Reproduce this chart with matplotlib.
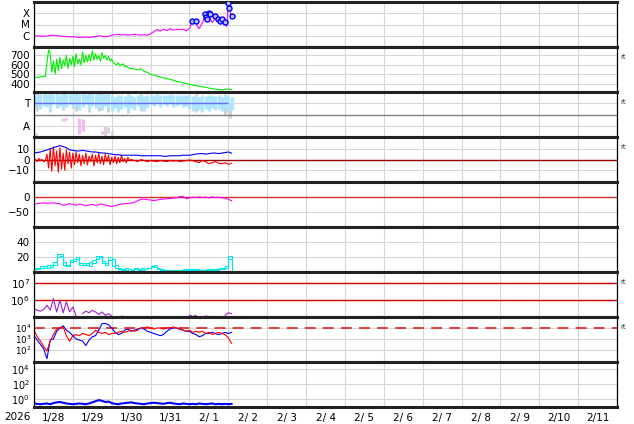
import numpy as np
import matplotlib
matplotlib.use("Agg")
import matplotlib.pyplot as plt
from matplotlib.ticker import NullLocator, FixedLocator

nan = np.nan

# time axis: hours from 2026-01-28 00:00
t2 = np.arange(0, 123, 2)          # every 2 h, 0..122
t_hr = np.arange(0, 61)            # hourly, 0..60
t_late = np.arange(62, 123, 2)     # every 2 h, 62..122
t_xr1 = np.arange(0, 95, 2)        # x-ray, every 2 h
t_xr2 = np.arange(96, 123)         # x-ray, hourly during flares

day_labels = ["1/28", "1/29", "1/30", "1/31", "2/ 1", "2/ 2", "2/ 3", "2/ 4",
              "2/ 5", "2/ 6", "2/ 7", "2/ 8", "2/ 9", "2/10", "2/11"]

# X-ray flux (log10 W/m2)
xray_log1 = [-6.05, -6.0, -6.03, -6.05, -6.02, -5.98, -5.94, -6.0, -6.03, -6.05, -6.07, -6.09, -6.09,
             -6.12, -6.14, -6.14, -6.12, -6.14, -6.11, -6.07, -6.0, -6.05, -6.09, -6.05, -5.95,
             -5.91, -5.86, -5.93, -5.89, -5.95, -5.91, -5.86, -5.91, -5.94, -5.91, -5.95, -5.82,
             -5.64, -5.45, -5.59, -5.41, -5.55, -5.36, -5.5, -5.44, -5.45, -5.41, -5.55]
xray_log2 = [-5.36, -5.0, -4.73, -4.91, -4.73, -5.18, -5.36, -5.09, -4.82, -4.45, -4.18, -4.36, -4.0,
             -4.55, -4.82, -4.64, -4.27, -4.45, -4.73, -4.91, -4.64, -4.82, -5.0, -5.18, -3.1, -3.73, -4.36]
flare_t = [97.5, 100, 105.6, 106.2, 106.8, 108, 108.6, 111.7, 113.6, 114.8, 116, 117.9, 119.8, 120.4, 122.2]
flare_log = [-4.73, -4.73, -4.09, -4.36, -4.55, -4.0, -4.09, -4.27, -4.55, -4.73, -4.55, -4.82, -3.09, -3.55, -4.27]

# solar wind speed (km/s)
vsw_hr = [460, 465, 470, 465, 475, 470, 480, 475,
          620, 760, 720, 520, 640, 500, 660, 540,
          680, 560, 650, 590, 700, 560, 670, 600,
          690, 580, 720, 610, 660, 600, 740, 620,
          700, 630, 710, 640, 750, 650, 720, 660,
          700, 640, 730, 670, 700, 650, 690, 640,
          660, 620, 610, 600, 620, 590, 600, 610,
          580, 590, 570, 560, 560]
vsw_late = [555, 545, 560, 530, 520, 500, 490, 480, 470, 460, 455, 445, 435, 425, 418, 410,
            400, 392, 385, 378, 372, 365, 360, 352, 346, 340, 335, 332, 338, 342, 335]

# IMF sector (T = +1, A = -1)
sect_hi = [1.9, 1.8, 1.85, 1.9, 1.8, 1.85, 1.8, 1.9, 1.85, 1.8, 1.9, 1.85,
           1.8, 1.9, 1.85, 1.9, 1.8, 1.85, 1.9, 1.8, 1.85, 1.9, 1.8, 1.85,
           1.7, 1.6, 1.75, 1.7, 1.65, 1.75, 1.7, 1.6, 1.75, 1.7, 1.65, 1.7,
           1.75, 1.7, 1.8, 1.75, 1.7, 1.75, 1.8, 1.7, 1.75, 1.7, 1.75, 1.7,
           1.7, 1.65, 1.7, 1.6, 1.7, 1.65, 1.75, 1.7, 1.65, 1.7, 1.6, 1.7, 1.65, 1.6]
sect_lo = [0.6, 0.9, 0.5, 0.8, 0.7, 0.4, 0.9, 0.6, 0.8, 0.5, 0.7, 0.9,
           0.6, 0.8, 0.4, 0.7, 0.9, 0.5, 0.8, 0.6, 0.7, 0.4, 0.8, 0.6,
           0.3, 0.6, 0.2, 0.5, 0.7, 0.3, 0.6, 0.4, 0.8, 0.5, 0.3, 0.6,
           0.9, 0.8, 1.0, 0.7, 0.9, 0.8, 1.0, 0.7, 0.8, 0.9, 0.7, 0.8,
           0.5, 0.3, 0.6, 0.4, 0.2, 0.5, 0.3, 0.6, 0.4, 0.5, 0.3, 0.6, 0.2, 0.4]
gray_t = [2, 10, 18, 26, 34, 40, 46, 58, 66, 100, 118, 121]
gray_lo = [0.3, 0.2, 0.4, 0.3, 0.2, 0.3, 0.2, 0.1, 0.3, 0.2, 0.0, -0.3]
gray_hi = [2.0, 2.0, 1.95, 2.0, 2.0, 1.95, 2.0, 1.8, 1.8, 1.8, 1.8, 1.0]
pinkA_t = [18, 20, 28, 30, 42, 52]
pinkA_lo = [-0.6, -0.5, -1.7, -1.5, -1.7, -0.35]
pinkA_hi = [-0.3, -0.35, -0.3, -0.4, -1.5, -0.3]
grayA_t = [1, 44, 46, 48]
grayA_lo = [-1.9, -1.9, -1.6, -1.8]
grayA_hi = [-1.6, -1.0, -1.1, -1.5]
sector_line_end = 120

# IMF Bt and Bz (nT)
bt = [6, 6.5, 7, 8, 9, 10, 11, 12, 13, 12, 11, 9,
      8.5, 8, 8, 8.5, 8, 7.5, 7, 7, 6.5, 6, 6, 5.5, 5,
      4.5, 4.5, 4, 4, 4, 4, 4, 4, 3.5, 3.5, 3.5, 3.5,
      3.5, 3.5, 3.5, 3, 3, 3.5, 3.5, 3.5, 3.5, 4, 4, 4,
      4.5, 5, 5.5, 5.5, 5, 5.5, 6, 6, 5.5, 6, 6.5, 7, 6]
bz_hr = [-1, 0, -2, 1, -1, 0, -2, -1,
         5, -8, 10, -11, 12, -6, 8, -12, 11, -9, 6, -10, 9, -4, 7, -8,
         6, -5, 7, -3, 5, -6, 4, -4, 6, -5, 3, -2, 5, -6, 4, -3,
         6, -4, 3, -5, 5, -2, 4, -5, 2, -3,
         3, -4, 2, -3, 4, -2, 1, -3, 2, -1, 0]
bz_late = [-1, -2, 0, -1, -2, -1, -1.5, -2, -1, -1.5, -2, -1,
           -1.5, -1, -2, -1.5, -1, -0.5,
           -1, -2, -3, -1, -2, -4, -3, -2, -3.5, -4, -3, -4.5, -3.5]

# Dst (nT)
dst = [-24, -22, -20, -19, -21, -20, -19, -21, -22, -27, -25, -22,
       -24, -27, -23, -25, -29, -26, -24, -28, -25, -23, -27, -29, -31,
       -28, -25, -23, -22, -21, -20, -18, -12, -8, -7, -9, -10,
       -12, -10, -8, -7, -6, -5, -4, -3, 1, 2, -6, -3,
       -1, -2, 0, -2, -1, -3, 0, -2, -1, -3, -4, -8, -12]

# two cyan index series
idx_a = [4, 6, 5, 8, 6, 9, 14, 24, 24, 10, 8, 14, 17, 18, 12, 9, 12, 8, 16, 22, 21, 12, 9, 20, 8,
         5, 4, 4, 3, 4, 3, 5, 4, 3, 4, 6, 8, 7, 4, 3, 2, 2, 3, 2, 2, 3, 4, 3, 3,
         4, 3, 2, 3, 4, 3, 4, 3, 5, 4, 6, 22, 12]
idx_b = [6, 4, 8, 6, 9, 7, 10, 20, 22, 14, 10, 16, 15, 20, 10, 12, 10, 14, 12, 18, 20, 15, 12, 16, 18,
         10, 6, 3, 5, 4, 3, 4, 3, 5, 4, 5, 7, 9, 6, 4, 3, 3, 2, 3, 3, 2, 3, 4, 4,
         3, 4, 3, 2, 3, 4, 3, 4, 4, 5, 8, 18, 0]

# particle flux (log10)
elec_log = [5.5, 5.4, 5.35, 5.45, 5.7, 5.4, 6.1, 5.3, 6.0, 5.25, 5.9, 5.3, 5.6, 5.05, nan,
            5.2, 5.35, 5.25, 5.4, 5.3, 5.15, 5.3, 5.1, 5.2, 5.05, nan, nan, 5.05, 5.02,
            nan, nan, nan, nan, nan, nan, nan, nan, nan, nan, nan, nan, nan, nan, nan, nan, nan, nan, nan,
            5.12, 5.03, 5.1, nan, nan, 5.06, 5.03, nan, nan, nan, nan, 5.1, 5.25, 5.2]
blue8_log = [3.3, 2.9, 2.5, 2.1, 1.2, 2.9, 3.0, 3.7, 4.0, 4.2, 3.8, 3.6, 3.3, 3.0, 2.9, 2.8, 2.4,
             2.9, 3.2, 3.3, 3.8, 4.4, 4.4, 4.3, 4.0, 3.6, 3.4, 3.5, 3.8, 3.9, 3.7, 3.8, 3.9, 4.0,
             3.9, 3.7, 3.6, 3.5, 3.4, 3.3, 3.4, 3.7, 3.9, 4.0, 4.0, 3.9, 3.8, 3.7, 3.7, 3.5, 3.4,
             3.2, 3.3, 3.5, 3.5, 3.6, 3.5, 3.4, 3.5, 3.6, 3.5, 3.6]
red8_log = [3.8, 3.2, 2.8, 2.3, 1.9, 2.8, 3.4, 3.9, 4.0, 4.1, 3.3, 2.8, 3.3, 3.4, 3.3, 3.5, 3.4,
            3.3, 3.5, 3.8, 3.6, 3.5, 3.6, 3.4, 3.5, 3.5, 3.6, 3.7, 3.6, 3.7, 3.8, 3.7, 3.8, 4.0,
            4.0, 4.1, 4.0, 3.9, 4.0, 4.0, 3.9, 4.0, 4.0, 4.1, 4.0, 3.9, 3.8, 3.7, 3.8, 3.6, 3.7,
            3.6, 3.7, 3.5, 3.6, 3.4, 3.5, 3.6, 3.5, 3.4, 3.1, 2.6]
blue9_log = [-0.6, -0.65, -0.7, -0.65, -0.6, -0.7, -0.55, -0.45, -0.4,
             -0.5, -0.6, -0.65, -0.7, -0.65, -0.6, -0.65, -0.7, -0.6,
             -0.45, -0.3, -0.15, -0.25, -0.4, -0.35, -0.55,
             -0.65, -0.7, -0.6, -0.55, -0.5, -0.45, -0.55, -0.6, -0.65, -0.7, -0.6, -0.55,
             -0.5, -0.55, -0.6, -0.65, -0.55, -0.5, -0.6, -0.65, -0.7, -0.6, -0.65, -0.7,
             -0.65, -0.7, -0.6, -0.65, -0.7, -0.65, -0.6, -0.7, -0.65, -0.7, -0.65, -0.7, -0.65]

fig, axes = plt.subplots(9, 1, figsize=(6.34, 4.24), dpi=100, sharex=True)
fig.subplots_adjust(left=34 / 634, right=617 / 634, top=1 - 2 / 424, bottom=1 - 407 / 424, hspace=0)

for ax in axes:
    ax.set_xlim(0, 360)
    ax.set_xticks(np.arange(0, 361, 24))
    ax.grid(True, color="#d6d6d6", lw=0.8)
    ax.set_axisbelow(True)
    ax.tick_params(length=0, labelsize=7.5, pad=3)
    ax.tick_params(axis="x", labelbottom=False)
    for s in ("top", "bottom"):
        ax.spines[s].set_linewidth(2.2)
        ax.spines[s].set_color("#222222")
    for s in ("left", "right"):
        ax.spines[s].set_linewidth(0.9)

# 1: X-ray
ax = axes[0]
ax.set_yscale("log")
ax.set_ylim(1e-7, 1e-3)
ax.plot(t_xr1, 10.0 ** np.array(xray_log1), color="#ff00ff", lw=0.8)
ax.plot(np.r_[t_xr1[-1], t_xr2], 10.0 ** np.r_[xray_log1[-1], xray_log2], color="#ff00ff", lw=0.8)
ax.scatter(flare_t, 10.0 ** np.array(flare_log), s=13, facecolors="#c0c0ff", edgecolors="#0000ff",
           linewidths=1.0, zorder=3)
ax.yaxis.set_major_locator(FixedLocator([1e-6, 1e-5, 1e-4]))
ax.yaxis.set_minor_locator(NullLocator())
ax.set_yticklabels(["C", "M", "X"])

# 2: solar wind speed
ax = axes[1]
ax.plot(np.r_[t_hr, t_late], np.r_[vsw_hr, vsw_late], color="#00ee00", lw=0.8)
ax.set_ylim(310, 790)
ax.set_yticks([400, 500, 600, 700])

# 3: IMF sector
ax = axes[2]
ax.set_ylim(-2, 2)
ax.vlines(gray_t, gray_lo, gray_hi, color="#cfcfcf", lw=2.0)
ax.vlines(t2, sect_lo, sect_hi, color="#aee6ff", lw=2.4)
ax.vlines(grayA_t, grayA_lo, grayA_hi, color="#d4d4d4", lw=2.0)
ax.vlines(pinkA_t, pinkA_lo, pinkA_hi, color="#f2b8f2", lw=2.4)
ax.hlines(1, t2[0], sector_line_end, color="#6a6aff", lw=1.0)
ax.axhline(0, color="#808080", lw=1.0)
ax.set_yticks([1, -1])
ax.set_yticklabels(["T", "A"])

# 4: IMF Bt / Bz
ax = axes[3]
ax.set_ylim(-21, 21)
ax.axhline(0, color="#990000", lw=1.0)
ax.plot(np.r_[t_hr, t_late], np.r_[bz_hr, bz_late], color="#ff0000", lw=0.8)
ax.plot(t2, bt, color="#0000ff", lw=0.8)
ax.set_yticks([-10, 0, 10])
ax.set_yticklabels(["\u221210", "0", "10"])

# 5: Dst
ax = axes[4]
ax.set_ylim(-97, 48)
ax.axhline(0, color="#d83030", lw=1.0)
ax.plot(t2, dst, color="#ff00ff", lw=0.8)
ax.set_yticks([-50, 0])
ax.set_yticklabels(["\u221250", "0"])

# 6: indices
ax = axes[5]
ax.set_ylim(0, 60)
ax.step(t2, idx_a, where="post", color="#00e8e8", lw=0.8)
ax.step(t2, idx_b, where="post", color="#00e8e8", lw=0.8)
ax.set_yticks([20, 40])

# 7: electron flux
ax = axes[6]
ax.set_yscale("log")
ax.set_ylim(1e5, 10 ** 7.68)
ax.axhline(1e6, color="#d00000", lw=1.0)
ax.axhline(1e7, color="#d00000", lw=1.0)
ax.plot(t2, 10.0 ** np.array(elec_log), color="#a020d0", lw=0.8)
ax.yaxis.set_major_locator(FixedLocator([1e6, 1e7]))
ax.yaxis.set_minor_locator(NullLocator())

# 8: proton / particle flux
ax = axes[7]
ax.set_yscale("log")
ax.set_ylim(10 ** 0.9, 1e5)
ax.axhline(1e4, color="#e03030", lw=1.3, dashes=(6, 4))
ax.plot(t2, 10.0 ** np.array(blue8_log), color="#0000ff", lw=0.8)
ax.plot(t2, 10.0 ** np.array(red8_log), color="#ff0000", lw=0.8)
ax.yaxis.set_major_locator(FixedLocator([1e2, 1e3, 1e4]))
ax.yaxis.set_minor_locator(NullLocator())
ax.tick_params(axis="y", labelsize=6.3, pad=2)

# 9: low flux
ax = axes[8]
ax.set_yscale("log")
ax.set_ylim(10 ** -1.07, 10 ** 4.93)
ax.plot(t2, 10.0 ** np.array(blue9_log), color="#0000ff", lw=1.5)
ax.yaxis.set_major_locator(FixedLocator([1e0, 1e2, 1e4]))
ax.yaxis.set_minor_locator(NullLocator())
ax.tick_params(axis="y", labelsize=7)

# date labels at noon, grid at midnight
ax.set_xticks(np.arange(12, 360, 24), minor=True)
ax.set_xticklabels(day_labels, minor=True)
ax.tick_params(axis="x", which="minor", length=0, labelsize=7.5, pad=4, labelbottom=True)
fig.text(17 / 634, 1 - 417 / 424, "2026", fontsize=7.5, ha="center", va="center")

for i in (1, 2, 3, 6, 7):
    axes[i].text(1.006, 1 - 10 / 45, "rt", transform=axes[i].transAxes, fontsize=5,
                 ha="left", va="center", color="#333333")

fig.savefig("out.png", dpi=100)
